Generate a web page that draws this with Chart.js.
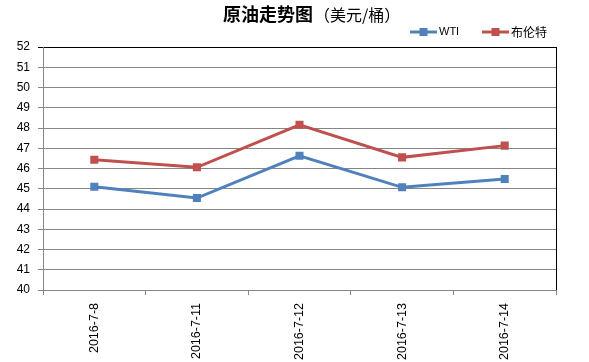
<!DOCTYPE html>
<html>
<head>
<meta charset="utf-8">
<script src="https://cdn.jsdelivr.net/npm/chart.js@4/dist/chart.umd.min.js"></script>
<style>
  html, body { margin: 0; padding: 0; background: #fff; }
  #wrap { width: 589px; height: 362px; position: relative; }
</style>
</head>
<body>
<div id="wrap"><canvas id="oilChart"></canvas></div>
<script>
const dates = ['2016-7-8', '2016-7-11', '2016-7-12', '2016-7-13', '2016-7-14'];
const wtiPrices = [45.10, 44.54, 46.63, 45.07, 45.48];
const brentPrices = [46.43, 46.06, 48.16, 46.55, 47.13];
const seriesNames = ['WTI', '布伦特'];
const yMin = 40;
const yMax = 52;

const fontStack = 'Arial, "Liberation Sans", "Noto Sans CJK SC", sans-serif';
const cjkStack = '"Noto Sans CJK SC", "Liberation Sans", sans-serif';
const blue = '#4F81BD';
const red = '#C0504D';
const gridGray = '#868686';

// title, legend and the black frame edge are drawn by hand
const decorPlugin = {
  id: 'decor',
  afterDraw(chart) {
    const { ctx, chartArea } = chart;
    ctx.save();

    ctx.strokeStyle = '#000';
    ctx.lineWidth = 1;
    ctx.beginPath();
    ctx.moveTo(chartArea.right + 0.5, chartArea.top);
    ctx.lineTo(chartArea.right + 0.5, chartArea.bottom);
    ctx.stroke();

    ctx.textBaseline = 'middle';
    ctx.fillStyle = '#000';
    ctx.font = 'bold 18px ' + cjkStack;
    const mainText = '原油走势图';
    ctx.textAlign = 'left';
    ctx.fillText(mainText, 223, 14);
    const mainW = ctx.measureText(mainText).width;
    ctx.font = '16px ' + cjkStack;
    ctx.fillText('（美元/桶）', 223 + mainW + 1, 15);

    const items = [
      { x: 410, color: blue, label: seriesNames[0], font: '11px ' + fontStack },
      { x: 482, color: red, label: seriesNames[1], font: '12px ' + cjkStack },
    ];
    items.forEach((item) => {
      const y = 32;
      ctx.strokeStyle = item.color;
      ctx.lineWidth = 3;
      ctx.beginPath();
      ctx.moveTo(item.x, y);
      ctx.lineTo(item.x + 27, y);
      ctx.stroke();
      ctx.fillStyle = item.color;
      ctx.fillRect(item.x + 9.5, y - 4, 8, 8);
      ctx.fillStyle = '#000';
      ctx.font = item.font;
      ctx.fillText(item.label, item.x + 29, y);
    });

    ctx.restore();
  },
};

const ctx = document.getElementById('oilChart').getContext('2d');
new Chart(ctx, {
  type: 'line',
  data: {
    labels: dates,
    datasets: [
      {
        label: seriesNames[0],
        data: wtiPrices,
        borderColor: blue,
        backgroundColor: blue,
        borderWidth: 3,
        pointStyle: 'rect',
        pointRadius: 5.7,
        pointBorderWidth: 0,
        tension: 0,
      },
      {
        label: seriesNames[1],
        data: brentPrices,
        borderColor: red,
        backgroundColor: red,
        borderWidth: 3,
        pointStyle: 'rect',
        pointRadius: 5.7,
        pointBorderWidth: 0,
        tension: 0,
      },
    ],
  },
  options: {
    responsive: true,
    maintainAspectRatio: false,
    animation: false,
    layout: {
      padding: { top: 47, right: 33, left: 0, bottom: 0 },
    },
    plugins: {
      legend: { display: false },
      title: { display: false },
      tooltip: { enabled: false },
    },
    scales: {
      x: {
        offset: true,
        grid: {
          offset: true,
          drawOnChartArea: false,
          color: gridGray,
          tickLength: 5,
        },
        border: { color: gridGray },
        ticks: {
          color: '#000',
          minRotation: 90,
          maxRotation: 90,
          padding: 8,
          font: { family: fontStack, size: 12.5 },
        },
        afterFit(scale) {
          scale.height = 72;
        },
      },
      y: {
        min: yMin,
        max: yMax,
        ticks: {
          stepSize: 1,
          color: '#000',
          padding: 8,
          font: { family: fontStack, size: 12 },
        },
        grid: {
          color: (c) => (c.tick && c.tick.value === yMax ? '#000' : gridGray),
          tickLength: 5,
        },
        border: { color: gridGray },
        afterFit(scale) {
          scale.width = 43;
        },
      },
    },
  },
  plugins: [decorPlugin],
});
</script>
</body>
</html>
